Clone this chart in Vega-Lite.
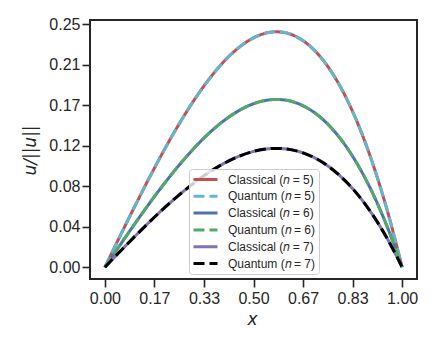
{
  "$schema": "https://vega.github.io/schema/vega-lite/v6.json",
  "width": 327,
  "height": 259,
  "autosize": {"type": "none"},
  "padding": {"left": 90, "top": 20, "right": 20, "bottom": 70},
  "background": "white",
  "config": {
    "view": {"stroke": "#262626", "strokeWidth": 2},
    "axis": {
      "grid": false,
      "domain": false,
      "tickColor": "#262626",
      "tickWidth": 1.6,
      "tickSize": 8,
      "labelFont": "Liberation Sans",
      "labelFontSize": 16,
      "labelColor": "#262626",
      "titleFont": "DejaVu Sans",
      "titleFontStyle": "italic",
      "titleFontWeight": "normal",
      "titleFontSize": 17,
      "titleColor": "#262626"
    },
    "legend": {
      "orient": "none",
      "legendX": 99,
      "legendY": 149,
      "symbolType": "stroke",
      "symbolSize": 576,
      "symbolStrokeWidth": 3,
      "clipHeight": 15,
      "rowPadding": 1.8,
      "padding": 3,
      "labelOffset": 9,
      "labelFont": "Liberation Sans, DejaVu Sans",
      "labelFontSize": 12,
      "labelColor": "#262626",
      "labelLimit": 200,
      "fillColor": "rgba(255,255,255,0.8)",
      "strokeColor": "#cccccc",
      "cornerRadius": 3
    }
  },
  "data": {
    "values": [
      {"s": "C5", "x": 0, "y": 0}, {"s": "C5", "x": 0.05, "y": 0.03142}, {"s": "C5", "x": 0.1, "y": 0.06237}, {"s": "C5", "x": 0.15, "y": 0.09237}, {"s": "C5", "x": 0.2, "y": 0.12096}, {"s": "C5", "x": 0.25, "y": 0.14766}, {"s": "C5", "x": 0.3, "y": 0.17199}, {"s": "C5", "x": 0.35, "y": 0.19349}, {"s": "C5", "x": 0.4, "y": 0.21168}, {"s": "C5", "x": 0.45, "y": 0.22609}, {"s": "C5", "x": 0.5, "y": 0.23625}, {"s": "C5", "x": 0.55, "y": 0.24168}, {"s": "C5", "x": 0.575, "y": 0.24248}, {"s": "C5", "x": 0.6, "y": 0.24192}, {"s": "C5", "x": 0.65, "y": 0.23649}, {"s": "C5", "x": 0.7, "y": 0.22491}, {"s": "C5", "x": 0.75, "y": 0.20672}, {"s": "C5", "x": 0.8, "y": 0.18144}, {"s": "C5", "x": 0.85, "y": 0.1486}, {"s": "C5", "x": 0.9, "y": 0.10773}, {"s": "C5", "x": 0.95, "y": 0.05835}, {"s": "C5", "x": 1, "y": 0},
      {"s": "Q5", "x": 0, "y": 0}, {"s": "Q5", "x": 0.05, "y": 0.03142}, {"s": "Q5", "x": 0.1, "y": 0.06237}, {"s": "Q5", "x": 0.15, "y": 0.09237}, {"s": "Q5", "x": 0.2, "y": 0.12096}, {"s": "Q5", "x": 0.25, "y": 0.14766}, {"s": "Q5", "x": 0.3, "y": 0.17199}, {"s": "Q5", "x": 0.35, "y": 0.19349}, {"s": "Q5", "x": 0.4, "y": 0.21168}, {"s": "Q5", "x": 0.45, "y": 0.22609}, {"s": "Q5", "x": 0.5, "y": 0.23625}, {"s": "Q5", "x": 0.55, "y": 0.24168}, {"s": "Q5", "x": 0.575, "y": 0.24248}, {"s": "Q5", "x": 0.6, "y": 0.24192}, {"s": "Q5", "x": 0.65, "y": 0.23649}, {"s": "Q5", "x": 0.7, "y": 0.22491}, {"s": "Q5", "x": 0.75, "y": 0.20672}, {"s": "Q5", "x": 0.8, "y": 0.18144}, {"s": "Q5", "x": 0.85, "y": 0.1486}, {"s": "Q5", "x": 0.9, "y": 0.10773}, {"s": "Q5", "x": 0.95, "y": 0.05835}, {"s": "Q5", "x": 1, "y": 0},
      {"s": "C6", "x": 0, "y": 0}, {"s": "C6", "x": 0.05, "y": 0.02239}, {"s": "C6", "x": 0.1, "y": 0.04445}, {"s": "C6", "x": 0.15, "y": 0.06584}, {"s": "C6", "x": 0.2, "y": 0.08621}, {"s": "C6", "x": 0.25, "y": 0.10523}, {"s": "C6", "x": 0.3, "y": 0.12258}, {"s": "C6", "x": 0.35, "y": 0.1379}, {"s": "C6", "x": 0.4, "y": 0.15086}, {"s": "C6", "x": 0.45, "y": 0.16114}, {"s": "C6", "x": 0.5, "y": 0.16838}, {"s": "C6", "x": 0.55, "y": 0.17225}, {"s": "C6", "x": 0.575, "y": 0.17282}, {"s": "C6", "x": 0.6, "y": 0.17242}, {"s": "C6", "x": 0.65, "y": 0.16854}, {"s": "C6", "x": 0.7, "y": 0.16029}, {"s": "C6", "x": 0.75, "y": 0.14733}, {"s": "C6", "x": 0.8, "y": 0.12931}, {"s": "C6", "x": 0.85, "y": 0.10591}, {"s": "C6", "x": 0.9, "y": 0.07678}, {"s": "C6", "x": 0.95, "y": 0.04159}, {"s": "C6", "x": 1, "y": 0},
      {"s": "Q6", "x": 0, "y": 0}, {"s": "Q6", "x": 0.05, "y": 0.02239}, {"s": "Q6", "x": 0.1, "y": 0.04445}, {"s": "Q6", "x": 0.15, "y": 0.06584}, {"s": "Q6", "x": 0.2, "y": 0.08621}, {"s": "Q6", "x": 0.25, "y": 0.10523}, {"s": "Q6", "x": 0.3, "y": 0.12258}, {"s": "Q6", "x": 0.35, "y": 0.1379}, {"s": "Q6", "x": 0.4, "y": 0.15086}, {"s": "Q6", "x": 0.45, "y": 0.16114}, {"s": "Q6", "x": 0.5, "y": 0.16838}, {"s": "Q6", "x": 0.55, "y": 0.17225}, {"s": "Q6", "x": 0.575, "y": 0.17282}, {"s": "Q6", "x": 0.6, "y": 0.17242}, {"s": "Q6", "x": 0.65, "y": 0.16854}, {"s": "Q6", "x": 0.7, "y": 0.16029}, {"s": "Q6", "x": 0.75, "y": 0.14733}, {"s": "Q6", "x": 0.8, "y": 0.12931}, {"s": "Q6", "x": 0.85, "y": 0.10591}, {"s": "Q6", "x": 0.9, "y": 0.07678}, {"s": "Q6", "x": 0.95, "y": 0.04159}, {"s": "Q6", "x": 1, "y": 0},
      {"s": "C7", "x": 0, "y": 0}, {"s": "C7", "x": 0.05, "y": 0.01586}, {"s": "C7", "x": 0.1, "y": 0.03148}, {"s": "C7", "x": 0.15, "y": 0.04663}, {"s": "C7", "x": 0.2, "y": 0.06106}, {"s": "C7", "x": 0.25, "y": 0.07453}, {"s": "C7", "x": 0.3, "y": 0.08681}, {"s": "C7", "x": 0.35, "y": 0.09767}, {"s": "C7", "x": 0.4, "y": 0.10685}, {"s": "C7", "x": 0.45, "y": 0.11412}, {"s": "C7", "x": 0.5, "y": 0.11925}, {"s": "C7", "x": 0.55, "y": 0.12199}, {"s": "C7", "x": 0.575, "y": 0.1224}, {"s": "C7", "x": 0.6, "y": 0.12211}, {"s": "C7", "x": 0.65, "y": 0.11937}, {"s": "C7", "x": 0.7, "y": 0.11353}, {"s": "C7", "x": 0.75, "y": 0.10434}, {"s": "C7", "x": 0.8, "y": 0.09158}, {"s": "C7", "x": 0.85, "y": 0.07501}, {"s": "C7", "x": 0.9, "y": 0.05438}, {"s": "C7", "x": 0.95, "y": 0.02946}, {"s": "C7", "x": 1, "y": 0},
      {"s": "Q7", "x": 0, "y": 0}, {"s": "Q7", "x": 0.05, "y": 0.01586}, {"s": "Q7", "x": 0.1, "y": 0.03148}, {"s": "Q7", "x": 0.15, "y": 0.04663}, {"s": "Q7", "x": 0.2, "y": 0.06106}, {"s": "Q7", "x": 0.25, "y": 0.07453}, {"s": "Q7", "x": 0.3, "y": 0.08681}, {"s": "Q7", "x": 0.35, "y": 0.09767}, {"s": "Q7", "x": 0.4, "y": 0.10685}, {"s": "Q7", "x": 0.45, "y": 0.11412}, {"s": "Q7", "x": 0.5, "y": 0.11925}, {"s": "Q7", "x": 0.55, "y": 0.12199}, {"s": "Q7", "x": 0.575, "y": 0.1224}, {"s": "Q7", "x": 0.6, "y": 0.12211}, {"s": "Q7", "x": 0.65, "y": 0.11937}, {"s": "Q7", "x": 0.7, "y": 0.11353}, {"s": "Q7", "x": 0.75, "y": 0.10434}, {"s": "Q7", "x": 0.8, "y": 0.09158}, {"s": "Q7", "x": 0.85, "y": 0.07501}, {"s": "Q7", "x": 0.9, "y": 0.05438}, {"s": "Q7", "x": 0.95, "y": 0.02946}, {"s": "Q7", "x": 1, "y": 0}
    ]
  },
  "encoding": {
    "x": {
      "field": "x",
      "type": "quantitative",
      "scale": {"domain": [-0.05, 1.05], "nice": false, "zero": false},
      "axis": {
        "values": [0, 0.1666667, 0.3333333, 0.5, 0.6666667, 0.8333333, 1],
        "format": ".2f",
        "title": "x",
        "labelPadding": 3,
        "labelFlush": false,
        "titleX": 162,
        "titleY": 45,
        "titleBaseline": "alphabetic"
      }
    },
    "y": {
      "field": "y",
      "type": "quantitative",
      "scale": {"domain": [-0.012125, 0.254625], "nice": false, "zero": false},
      "axis": {
        "values": [0, 0.0416667, 0.0833333, 0.1249999, 0.1666667, 0.2083333, 0.25],
        "format": ".2f",
        "title": "u/||u||",
        "labelPadding": 2,
        "labelFlush": false,
        "titleX": -60,
        "titleY": 130,
        "titleAngle": -90,
        "titleBaseline": "middle"
      }
    },
    "color": {
      "field": "s",
      "type": "nominal",
      "scale": {
        "domain": ["C5", "Q5", "C6", "Q6", "C7", "Q7"],
        "range": ["#C44E52", "#64B5CD", "#4C72B0", "#55A868", "#8172B3", "#000000"]
      },
      "legend": {
        "title": null,
        "labelExpr": "datum.label == 'C5' ? 'Classical (𝑛 = 5)' : datum.label == 'Q5' ? 'Quantum (𝑛 = 5)' : datum.label == 'C6' ? 'Classical (𝑛 = 6)' : datum.label == 'Q6' ? 'Quantum (𝑛 = 6)' : datum.label == 'C7' ? 'Classical (𝑛 = 7)' : 'Quantum (𝑛 = 7)'"
      }
    },
    "strokeDash": {
      "field": "s",
      "type": "nominal",
      "scale": {
        "domain": ["C5", "Q5", "C6", "Q6", "C7", "Q7"],
        "range": [[1, 0], [11, 5], [1, 0], [11, 5], [1, 0], [11, 5]]
      },
      "legend": {
        "title": null,
        "labelExpr": "datum.label == 'C5' ? 'Classical (𝑛 = 5)' : datum.label == 'Q5' ? 'Quantum (𝑛 = 5)' : datum.label == 'C6' ? 'Classical (𝑛 = 6)' : datum.label == 'Q6' ? 'Quantum (𝑛 = 6)' : datum.label == 'C7' ? 'Classical (𝑛 = 7)' : 'Quantum (𝑛 = 7)'"
      }
    }
  },
  "layer": [
    {
      "transform": [{"filter": {"field": "s", "oneOf": ["C5", "C6", "C7"]}}],
      "mark": {"type": "line", "strokeWidth": 3, "interpolate": "monotone"}
    },
    {
      "transform": [{"filter": {"field": "s", "oneOf": ["Q5", "Q6", "Q7"]}}],
      "mark": {"type": "line", "strokeWidth": 3, "interpolate": "monotone"}
    }
  ]
}
